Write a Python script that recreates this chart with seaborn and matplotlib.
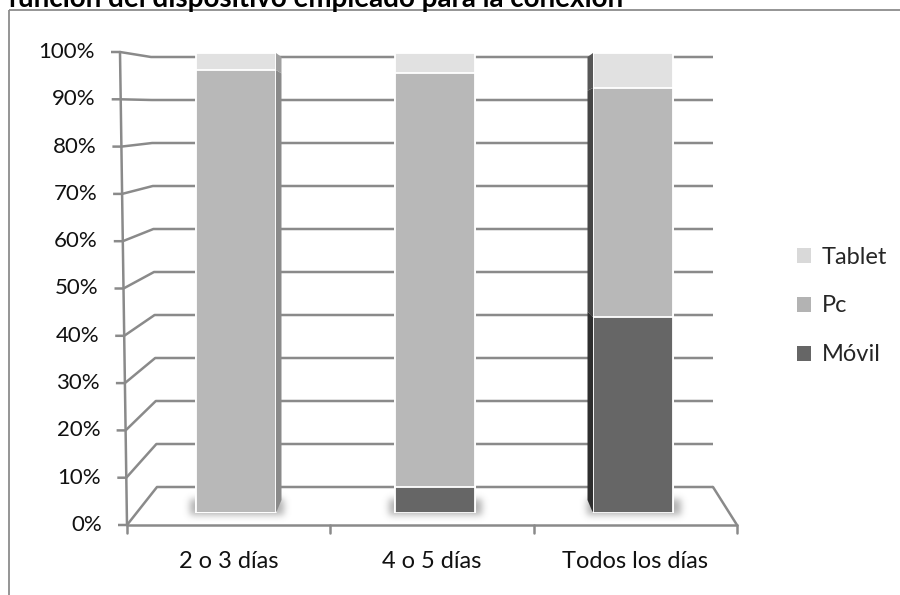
import numpy as np
import pandas as pd
import matplotlib
matplotlib.use("Agg")
import matplotlib.pyplot as plt
import seaborn as sns
from matplotlib.patches import Rectangle, Patch

sns.set_theme(style="white")
plt.rcParams["font.family"] = ["Lato", "DejaVu Sans"]

# ---- data -------------------------------------------------------------
title = "función del dispositivo empleado para la conexión"
categories = ["2 o 3 días", "4 o 5 días", "Todos los días"]
series = ["Móvil", "Pc", "Tablet"]
movil = [0.0, 0.057, 0.426]
pc = [0.963, 0.900, 0.498]
tablet = [0.037, 0.043, 0.076]
tick_values = [0.0, 0.1, 0.2, 0.3, 0.4, 0.5, 0.6, 0.7, 0.8, 0.9, 1.0]
tick_labels = ["0%", "10%", "20%", "30%", "40%", "50%", "60%", "70%", "80%", "90%", "100%"]

# ---- style ------------------------------------------------------------
face = {"Móvil": "#666666", "Pc": "#b8b8b8", "Tablet": "#e1e1e1"}
legend_face = {"Móvil": "#666666", "Pc": "#b3b3b3", "Tablet": "#d9d9d9"}
side_right = {"Móvil": "#4a4a4a", "Pc": "#8a8a8a", "Tablet": "#a0a0a0"}
side_left = {"Móvil": "#2e2e2e", "Pc": "#454545", "Tablet": "#575757"}
line_c = "#8a8a8a"
FS = 16
FS_CAT = 17

W, H = 900, 595
fig = plt.figure(figsize=(W / 100, H / 100), dpi=100)

# ---- 3-D frame, drawn in pixel space -----------------------------------
frame = fig.add_axes([0, 0, 1, 1], zorder=0)
frame.set_xlim(0, W)
frame.set_ylim(H, 0)
frame.axis("off")


def front(v):
    return 127 - 7 * v, 525 - 473 * v


def back(v):
    return 157 - 6 * v, 487 - 430 * v


BACK_RIGHT = 713
FLOOR_RIGHT = 737

frame.add_patch(Rectangle((9, 10), W, H, fill=False, ec="#8c8c8c", lw=1.3))

for v, lab in zip(tick_values, tick_labels):
    fx, fy = front(v)
    bx, by = back(v)
    frame.plot([fx - 9, fx, bx, BACK_RIGHT], [fy, fy, by, by],
               color=line_c, lw=1.8, solid_capstyle="butt")
    frame.text(fx - 25, fy, lab, ha="right", va="center", fontsize=FS,
               color="#111111")

# front vertical axis
(x0, y0), (x1, y1) = front(0), front(1)
frame.plot([x0, x1], [y0, y1], color=line_c, lw=1.8)
# floor front edge and right side
frame.plot([x0, FLOOR_RIGHT], [y0, y0], color=line_c, lw=1.8)
frame.plot([BACK_RIGHT, FLOOR_RIGHT], [back(0)[1], y0], color=line_c, lw=1.8)

n = len(categories)
step = (FLOOR_RIGHT - x0) / n
for k in range(n + 1):
    xt = x0 + k * step
    frame.plot([xt, xt], [y0, y0 + 8], color=line_c, lw=1.8)
for k, cat in enumerate(categories):
    frame.text(x0 + (k + 0.5) * step, 561, cat, ha="center", va="center",
               fontsize=FS_CAT, color="#111111")

# ---- bars ---------------------------------------------------------------
BAR_C0, BAR_STEP, BAR_W = 236.0, 198.5, 80.0
BASE_Y, TOP_Y = 513.0, 53.0

left_px = BAR_C0 - BAR_STEP / 2
ax = fig.add_axes([left_px / W, (H - BASE_Y) / H, n * BAR_STEP / W,
                   (BASE_Y - TOP_Y) / H], zorder=2)
ax.patch.set_alpha(0)

# soft shadows at the foot of each bar (blurred mask)
yy, xx = np.mgrid[0:H, 0:W]
mask = np.zeros((H, W))
for k in range(n):
    cx = BAR_C0 + k * BAR_STEP
    mask[(yy >= 499) & (yy <= 514) & (xx >= cx - BAR_W / 2 - 6) & (xx <= cx + BAR_W / 2 + 7)] = 1.0
sig = 3.5
kx = np.arange(-12, 13)
kern = np.exp(-kx ** 2 / (2 * sig ** 2))
kern /= kern.sum()
blur = np.apply_along_axis(lambda r: np.convolve(r, kern, mode="same"), 1, mask)
blur = np.apply_along_axis(lambda c: np.convolve(c, kern, mode="same"), 0, blur)
rgba = np.zeros((H, W, 4))
rgba[..., :3] = 0.4
rgba[..., 3] = 0.5 * blur
frame.imshow(rgba, extent=(0, W, H, 0), zorder=1, interpolation="bilinear")

df = pd.DataFrame({"cat": categories, "Móvil": movil, "Pc": pc, "Tablet": tablet})
df["top_movil"] = df["Móvil"]
df["top_pc"] = df["Móvil"] + df["Pc"]
df["top_tablet"] = df["top_pc"] + df["Tablet"]

wfrac = BAR_W / BAR_STEP
for col, name in [("top_tablet", "Tablet"), ("top_pc", "Pc"), ("top_movil", "Móvil")]:
    sns.barplot(data=df, x="cat", y=col, color=face[name], saturation=1,
                width=wfrac, edgecolor="white", linewidth=1.3,
                errorbar=None, ax=ax)

# receding side faces (perspective toward the middle bar)
depth = 5.5 / BAR_STEP


def back_v(v):
    return (13 + 443 * v) / 460


for k in range(n):
    off = (1 - k) * depth
    if off == 0:
        continue
    edge = k + (wfrac / 2 if off > 0 else -wfrac / 2)
    cols = side_right if off > 0 else side_left
    lo = 0.0
    for name, vals in [("Móvil", movil), ("Pc", pc), ("Tablet", tablet)]:
        hi = lo + vals[k]
        if vals[k] > 0:
            ax.fill([edge, edge + off, edge + off, edge],
                    [lo, back_v(lo), back_v(hi), hi],
                    facecolor=cols[name], edgecolor="none", zorder=5)
        lo = hi

ax.set_xlim(-0.5, n - 0.5)
ax.set_ylim(0, 1)
ax.axis("off")

# ---- legend -------------------------------------------------------------
handles = [Patch(facecolor=legend_face[s], edgecolor="none", label=s)
           for s in ["Tablet", "Pc", "Móvil"]]
fig.legend(handles=handles, loc="center left",
           bbox_to_anchor=(776 / W, 1 - 306 / H), frameon=False,
           fontsize=FS_CAT, handlelength=0.6, handleheight=0.6,
           handletextpad=0.45, labelspacing=1.18)

# ---- title (runs off the top edge) --------------------------------------
fig.text(8 / W, 1 - 7 / H, title, ha="left", va="baseline",
         fontsize=20, fontweight="bold", color="#000000")

fig.savefig("out.png", dpi=100)
